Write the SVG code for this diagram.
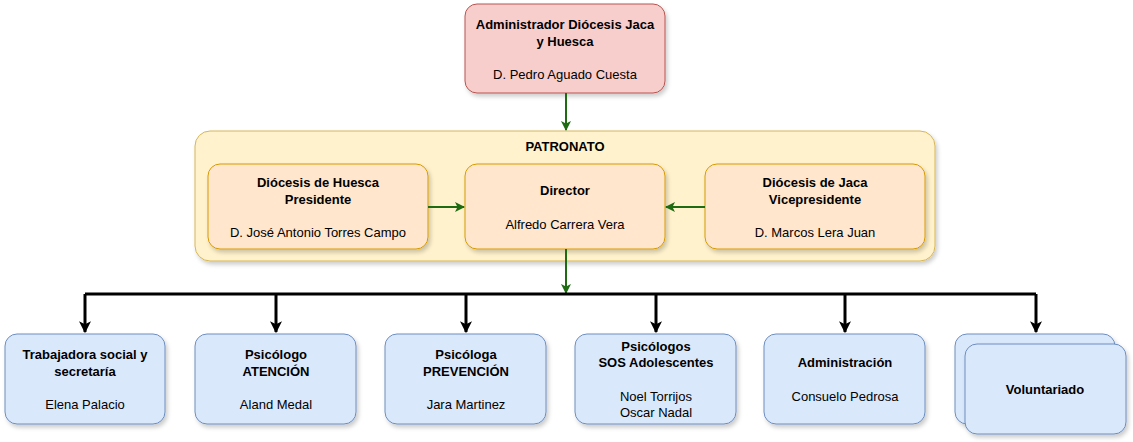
<svg xmlns="http://www.w3.org/2000/svg" width="1133" height="442" viewBox="0 0 1133 442">
<style>
text{font-family:"Liberation Sans",Arial,sans-serif;font-size:13px;text-anchor:middle;fill:#000}
.b{font-weight:bold}
.pink{fill:#f8cecc;stroke:#b85450}
.org{fill:#ffe6cc;stroke:#d79b00}
.cont{fill:#fff2cc;stroke:#d6b656}
.blue{fill:#dae8fc;stroke:#6c8ebf}
rect{filter:url(#sh)}
.g{stroke:#1e6b12;stroke-width:2;fill:none}
.k{stroke:#000;stroke-width:3;fill:none}
</style>
<defs>
<filter id="sh" x="-10%" y="-10%" width="130%" height="130%"><feDropShadow dx="2" dy="3" stdDeviation="2" flood-opacity="0.2"/></filter>
<marker id="ag" viewBox="0 0 10 10" refX="9" refY="5" markerWidth="5" markerHeight="5" orient="auto"><path d="M0,0L10,5L0,10L2.5,5z" fill="#1e6b12"/></marker>
<marker id="ak" viewBox="0 0 10 10" refX="9" refY="5" markerWidth="4" markerHeight="4" orient="auto"><path d="M0,0L10,5L0,10L2.5,5z" fill="#000"/></marker>
</defs>
<g id="patronato"><rect class="cont" x="195" y="131" width="740" height="130" rx="15"/><text class="b" x="565" y="151">PATRONATO</text></g>
<g id="admin-diocesis"><rect class="pink" x="465" y="4" width="200" height="89" rx="12"/><text class="b" x="565" y="29">Administrador Diócesis Jaca</text><text class="b" x="565" y="46">y Huesca</text><text x="565" y="79">D. Pedro Aguado Cuesta</text></g>
<g id="huesca"><rect class="org" x="208" y="164" width="220" height="85" rx="12"/><text class="b" x="318" y="187">Diócesis de Huesca</text><text class="b" x="318" y="204">Presidente</text><text x="318" y="237">D. José Antonio Torres Campo</text></g>
<g id="director"><rect class="org" x="465" y="164" width="200" height="85" rx="12"/><text class="b" x="565" y="195">Director</text><text x="565" y="229">Alfredo Carrera Vera</text></g>
<g id="jaca"><rect class="org" x="705" y="164" width="220" height="85" rx="12"/><text class="b" x="815" y="187">Diócesis de Jaca</text><text class="b" x="815" y="204">Vicepresidente</text><text x="815" y="237">D. Marcos Lera Juan</text></g>
<g id="trabajadora"><rect class="blue" x="5" y="334" width="160" height="90" rx="12"/><text class="b" x="85" y="359">Trabajadora social y</text><text class="b" x="85" y="376">secretaría</text><text x="85" y="409">Elena Palacio</text></g>
<g id="atencion"><rect class="blue" x="195" y="334" width="161" height="90" rx="12"/><text class="b" x="276" y="359">Psicólogo</text><text class="b" x="276" y="376">ATENCIÓN</text><text x="276" y="409">Aland Medal</text></g>
<g id="prevencion"><rect class="blue" x="385" y="334" width="161" height="90" rx="12"/><text class="b" x="466" y="359">Psicóloga</text><text class="b" x="466" y="376">PREVENCIÓN</text><text x="466" y="409">Jara Martinez</text></g>
<g id="sos"><rect class="blue" x="575" y="334" width="161" height="90" rx="12"/><text class="b" x="656" y="351">Psicólogos</text><text class="b" x="656" y="367">SOS Adolescentes</text><text x="656" y="401">Noel Torrijos</text><text x="656" y="417">Oscar Nadal</text></g>
<g id="administracion"><rect class="blue" x="764" y="334" width="161" height="90" rx="12"/><text class="b" x="845" y="367">Administración</text><text x="845" y="401">Consuelo Pedrosa</text></g>
<g id="voluntariado"><rect class="blue" x="955" y="334" width="160" height="90" rx="12"/><rect class="blue" x="965" y="344" width="161" height="90" rx="12"/><text class="b" x="1045" y="394">Voluntariado</text></g>
<g id="connectors">
<path class="g" d="M566,93V130" marker-end="url(#ag)"/>
<path class="g" d="M428,207H464" marker-end="url(#ag)"/>
<path class="g" d="M705,207H666" marker-end="url(#ag)"/>
<path class="g" d="M566,249V293" marker-end="url(#ag)"/>
<path class="k" d="M85,294H1036"/>
<path class="k" d="M85,294V332" marker-end="url(#ak)"/>
<path class="k" d="M276,294V332" marker-end="url(#ak)"/>
<path class="k" d="M466,294V332" marker-end="url(#ak)"/>
<path class="k" d="M656,294V332" marker-end="url(#ak)"/>
<path class="k" d="M845,294V332" marker-end="url(#ak)"/>
<path class="k" d="M1036,294V332" marker-end="url(#ak)"/>
</g>
</svg>
